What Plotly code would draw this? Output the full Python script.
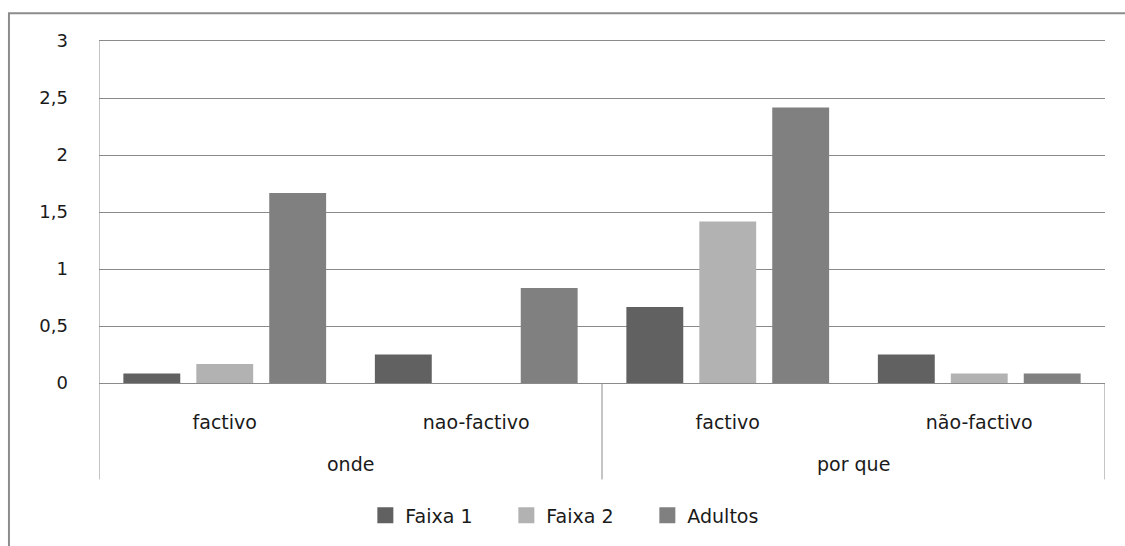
import plotly.graph_objects as go

# Grouped categories: outer group / inner condition
groups = ["onde", "onde", "por que", "por que"]
conditions = ["factivo", "nao-factivo", "factivo", "não-factivo"]
group_labels = ["onde", "por que"]

faixa1 = [0.083, 0.25, 0.667, 0.25]
faixa2 = [0.167, 0.0, 1.417, 0.083]
adultos = [1.667, 0.833, 2.417, 0.083]

series = [
    ("Faixa 1", faixa1, "#616161"),
    ("Faixa 2", faixa2, "#b2b2b2"),
    ("Adultos", adultos, "#808080"),
]

y_ticks = [0, 0.5, 1, 1.5, 2, 2.5, 3]

FONT = "DejaVu Sans"
TEXT = "#1a1a1a"
GRID = "#8a8a8a"

xpos = list(range(len(conditions)))

fig = go.Figure()
for name, vals, color in series:
    fig.add_trace(go.Bar(
        x=xpos, y=vals, name=name, showlegend=False,
        marker=dict(color=color, line=dict(width=0)),
    ))
# Legend entries drawn as square swatches
for name, vals, color in series:
    fig.add_trace(go.Scatter(
        x=[None], y=[None], name=name, mode="markers",
        marker=dict(symbol="square", size=16, color=color),
    ))

fig.update_layout(
    width=1125, height=546,
    margin=dict(l=99, r=20, t=41, b=161),
    paper_bgcolor="white", plot_bgcolor="white",
    barmode="group", bargap=0.13, bargroupgap=0.22,
    separators=", ",
    font=dict(family=FONT, size=19, color=TEXT),
    showlegend=True,
    legend=dict(
        orientation="h", x=0.475, xanchor="center", y=-0.387, yanchor="middle",
        font=dict(family=FONT, size=19, color=TEXT),
        traceorder="normal", itemwidth=30,
        entrywidth=96, entrywidthmode="pixels",
    ),
)

fig.update_xaxes(
    range=[-0.5, len(conditions) - 0.5],
    tickmode="array", tickvals=xpos, ticktext=conditions,
    showgrid=False, zeroline=False,
    showline=True, mirror=True, linecolor=GRID, linewidth=1,
    ticks="", ticklabelstandoff=22,
    tickfont=dict(family=FONT, size=19, color=TEXT),
)
fig.update_yaxes(
    range=[0, 3], tickmode="array", tickvals=y_ticks,
    showgrid=True, gridcolor=GRID, gridwidth=1,
    zeroline=False, showline=False,
    ticks="", ticklabelstandoff=30,
    tickfont=dict(family=FONT, size=18, color=TEXT),
)

# Divider lines below the axis separating the outer groups
div_bottom = -0.282
n = len(conditions)
fig.add_shape(type="line", xref="x", yref="paper", x0=-0.5, x1=-0.5,
              y0=div_bottom, y1=1, line=dict(color=GRID, width=1))
for i in range(1, n):
    if groups[i] != groups[i - 1]:
        fig.add_shape(type="line", xref="x", yref="paper", x0=i - 0.5, x1=i - 0.5,
                      y0=div_bottom, y1=0, line=dict(color=GRID, width=1))
fig.add_shape(type="line", xref="x", yref="paper", x0=n - 0.5, x1=n - 0.5,
              y0=div_bottom, y1=0, line=dict(color=GRID, width=1))

# Outer group labels centred under their conditions
for g in group_labels:
    idx = [i for i, gg in enumerate(groups) if gg == g]
    fig.add_annotation(
        x=sum(idx) / len(idx), y=-0.238, xref="x", yref="paper",
        text=g, showarrow=False, xanchor="center", yanchor="middle",
        font=dict(family=FONT, size=19, color=TEXT),
    )

# Chart frame
fig.add_shape(type="rect", xref="paper", yref="paper",
              x0=-0.0895, x1=1.03, y0=-0.5, y1=1.0814,
              line=dict(color="#8c8c8c", width=2), fillcolor="rgba(0,0,0,0)")

fig.write_html("out.html")
